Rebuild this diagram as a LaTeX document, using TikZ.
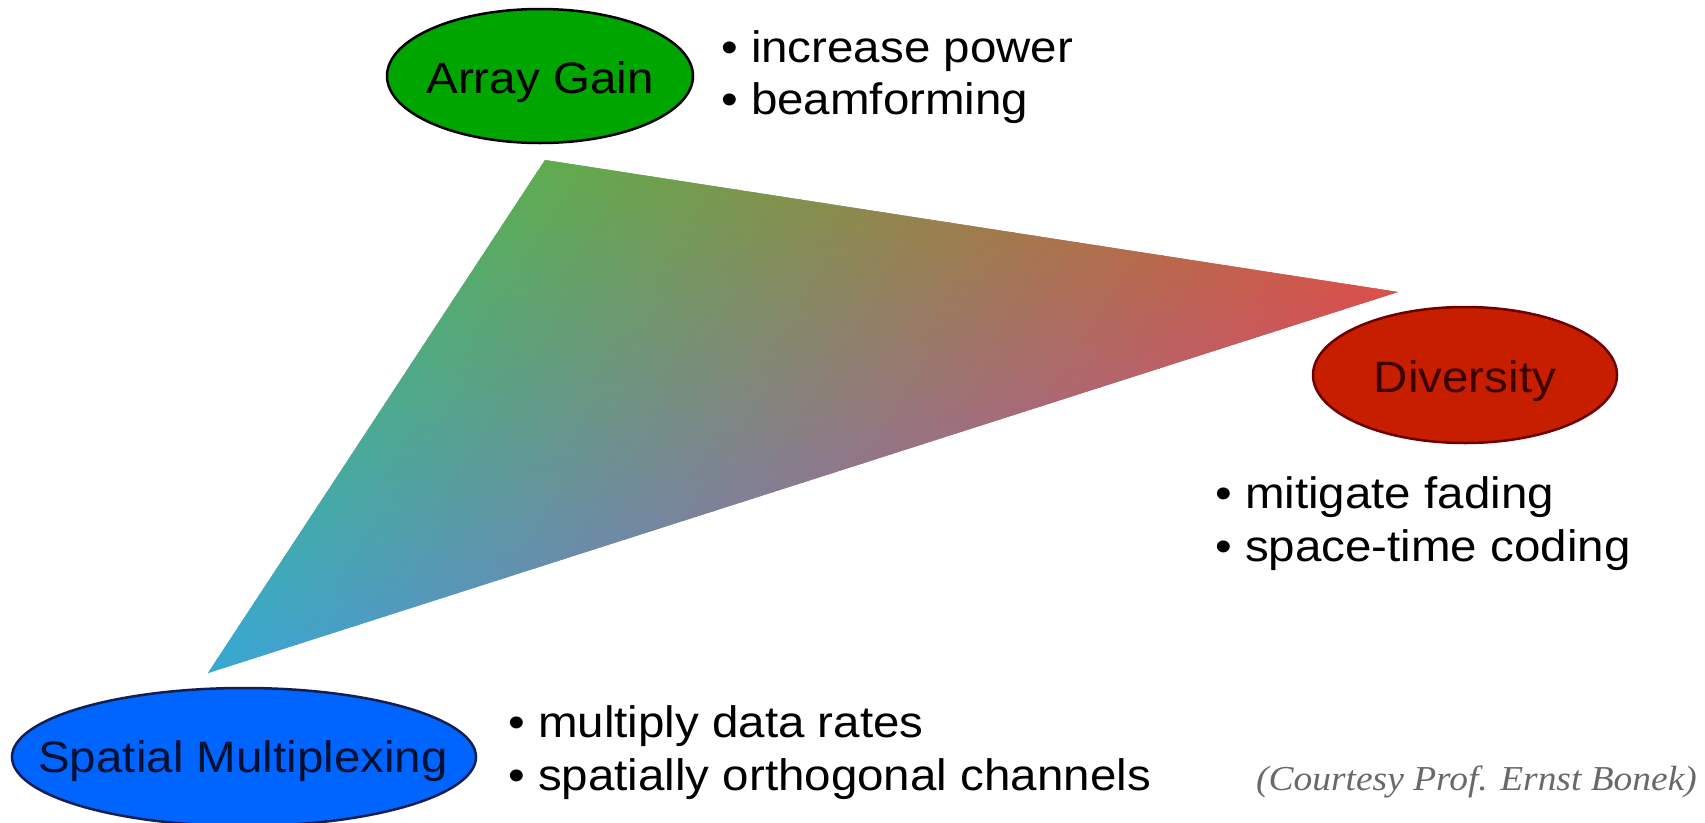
\documentclass[tikz,border=0pt]{standalone}
\usepackage{fontspec}
\usepackage{graphicx}
\usetikzlibrary{shapes.geometric}
\newfontfamily\lsans{Liberation Sans}
\newfontfamily\lserif{Liberation Serif}
\definecolor{agfill}{RGB}{0,165,0}
\definecolor{dvfill}{RGB}{200,30,0}
\definecolor{dvline}{RGB}{110,0,0}
\definecolor{dvtext}{RGB}{60,0,0}
\definecolor{smfill}{RGB}{0,100,255}
\definecolor{smline}{RGB}{20,30,80}
\definecolor{smtext}{RGB}{0,16,48}
\definecolor{courtgray}{RGB}{105,105,105}
\newcommand\stxt[1]{\scalebox{1.08}[1]{\lsans\fontsize{44}{50}\selectfont #1}}
\newcommand\setcol[2]{%
  \pgfmathsetmacro\wb{#1}%
  \pgfmathsetmacro\wc{#2}%
  \pgfmathsetmacro\wa{1-\wb-\wc}%
  \pgfmathsetmacro\colR{(\wa*95+\wb*220+\wc*55)/255}%
  \pgfmathsetmacro\colG{(\wa*172+\wb*78+\wc*168)/255}%
  \pgfmathsetmacro\colB{(\wa*78+\wb*75+\wc*212)/255}%
  \definecolor{tc}{rgb}{\colR,\colG,\colB}%
}
\tikzset{
  oval/.style={ellipse, line width=2.5pt, inner sep=0pt},
  lbl/.style={inner sep=0pt, anchor=base},
  bul/.style={inner sep=0pt, anchor=base west},
  facet/.style={fill=tc, draw=tc, line width=0.8pt, line join=round}
}
\begin{document}
\begin{tikzpicture}[x=1pt,y=-1pt]
\useasboundingbox (0,0) rectangle (1705,822);
\fill[white] (0,0) rectangle (1705,822);
% gradient triangle
\coordinate (A) at (545,160);
\coordinate (B) at (1398,292);
\coordinate (C) at (208,673);
\begin{scope}
\clip (A) -- (B) -- (C) -- cycle;
\begin{scope}[shift={(A)}, x={(21.325pt,-3.3pt)}, y={(-8.425pt,-12.825pt)}]
\foreach \i in {0,...,39}{
  \pgfmathtruncatemacro\jmax{39-\i}
  \foreach \j in {0,...,\jmax}{
    \setcol{(\i+1/3)/40}{(\j+1/3)/40}
    \fill[facet] (\i,\j) -- (\i+1,\j) -- (\i,\j+1) -- cycle;
    \ifnum\j<\jmax
      \setcol{(\i+2/3)/40}{(\j+2/3)/40}
      \fill[facet] (\i+1,\j) -- (\i+1,\j+1) -- (\i,\j+1) -- cycle;
    \fi
  }
}
\end{scope}
\end{scope}
% ellipses
\node[oval, fill=agfill, draw=black, minimum width=306pt, minimum height=134pt] (ag) at (540,76) {};
\node[oval, fill=dvfill, draw=dvline, minimum width=304pt, minimum height=136pt] (dv) at (1465,375) {};
\node[oval, fill=smfill, draw=smline, minimum width=464pt, minimum height=138pt] (sm) at (244,757) {};
\node[lbl] (agt) at (540,93) {\stxt{Array Gain}};
\node[lbl, text=dvtext] (dvt) at (1465,392) {\stxt{Diversity}};
\node[lbl, text=smtext] (smt) at (243,772) {\stxt{Spatial Multiplexing}};
% bullet texts
\node[bul] (ag1) at (721,62) {\stxt{• increase power}};
\node[bul] (ag2) at (721,114) {\stxt{• beamforming}};
\node[bul] (dv1) at (1215,508) {\stxt{• mitigate fading}};
\node[bul] (dv2) at (1215,561) {\stxt{• space-time coding}};
\node[bul] (sm1) at (508,737) {\stxt{• multiply data rates}};
\node[bul] (sm2) at (508,790) {\stxt{• spatially orthogonal channels}};
\node[bul, text=courtgray] (ct) at (1256,790) {\scalebox{1.07}[1]{\lserif\itshape\fontsize{35}{40}\selectfont (Courtesy Prof. Ernst Bonek)}};
\end{tikzpicture}
\end{document}
